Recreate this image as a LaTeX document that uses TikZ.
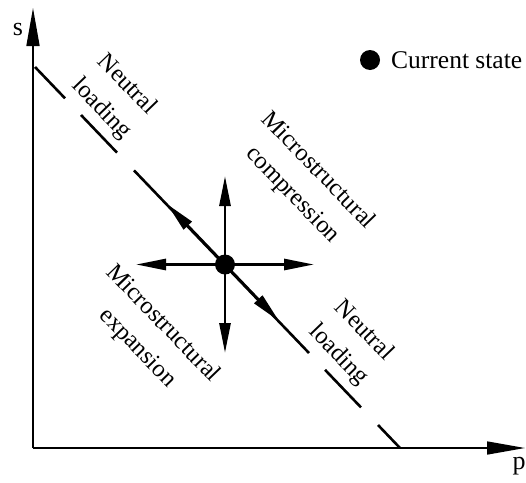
\documentclass[tikz,border=0pt]{standalone}
\usepackage{fontspec}
\setmainfont{Liberation Serif}
\usetikzlibrary{arrows.meta}
\begin{document}
\begin{tikzpicture}[x=1pt,y=-1pt,
  axis/.style={line width=1.6pt,-{Triangle[length=38pt,width=13pt]}},
  dashpart/.style={line width=2.6pt},
  crossarrow/.style={line width=2.8pt,-{Triangle[length=30pt,width=11pt]}},
  lbl/.style={font=\fontsize{24.5}{35}\selectfont,align=center,rotate=-46,inner sep=0pt},
  axlbl/.style={font=\fontsize{26}{30}\selectfont,inner sep=0pt}]
\useasboundingbox (0,0) rectangle (526,482);
% axes
\coordinate (O) at (33,448);
\coordinate (Stip) at (33,8);
\coordinate (Ptip) at (525,448);
\draw[axis] (O) -- (Stip);
\draw[axis] (O) -- (Ptip);
\node[axlbl] (s) at (18,29) {s};
\node[axlbl] (p) at (519,466) {p};
% dashed line pieces
\coordinate (d1a) at (35,67);   \coordinate (d1b) at (65,98.3);
\coordinate (d2a) at (81,115);  \coordinate (d2b) at (117,152.6);
\coordinate (d3a) at (134,170.4); \coordinate (d3b) at (309,353);
\coordinate (d4a) at (325,369.8); \coordinate (d4b) at (361,407.4);
\coordinate (d5a) at (378,425); \coordinate (d5b) at (400,448);
\draw[dashpart] (d1a) -- (d1b);
\draw[dashpart] (d2a) -- (d2b);
\draw[dashpart] (d3a) -- (d3b);
\draw[dashpart] (d4a) -- (d4b);
\draw[dashpart] (d5a) -- (d5b);
% current state
\coordinate (C) at (225,264.5);
\coordinate (up) at (225,176);
\coordinate (down) at (225,353);
\coordinate (left) at (136,264.5);
\coordinate (right) at (314,264.5);
\coordinate (ul) at (167,204);
\coordinate (dr) at (279,321);
\draw[crossarrow] (C) -- (up);
\draw[crossarrow] (C) -- (down);
\draw[crossarrow] (C) -- (left);
\draw[crossarrow] (C) -- (right);
\draw[crossarrow,line width=2.6pt] (C) -- (ul);
\draw[crossarrow,line width=2.6pt] (C) -- (dr);
\fill (C) circle (10pt);
% legend
\fill (370,60) circle (10pt);
\node[font=\fontsize{25.5}{28}\selectfont,anchor=west,inner sep=0pt] (leg) at (391,60) {Current state};
% labels
\node[lbl] (nl1) at (114,97) {Neutral\\loading};
\node[lbl] (comp) at (305,183) {Microstructural\\compression};
\node[lbl] (exp) at (150,336) {Microstructural\\expansion};
\node[lbl] (nl2) at (351,343) {Neutral\\loading};
\end{tikzpicture}
\end{document}
